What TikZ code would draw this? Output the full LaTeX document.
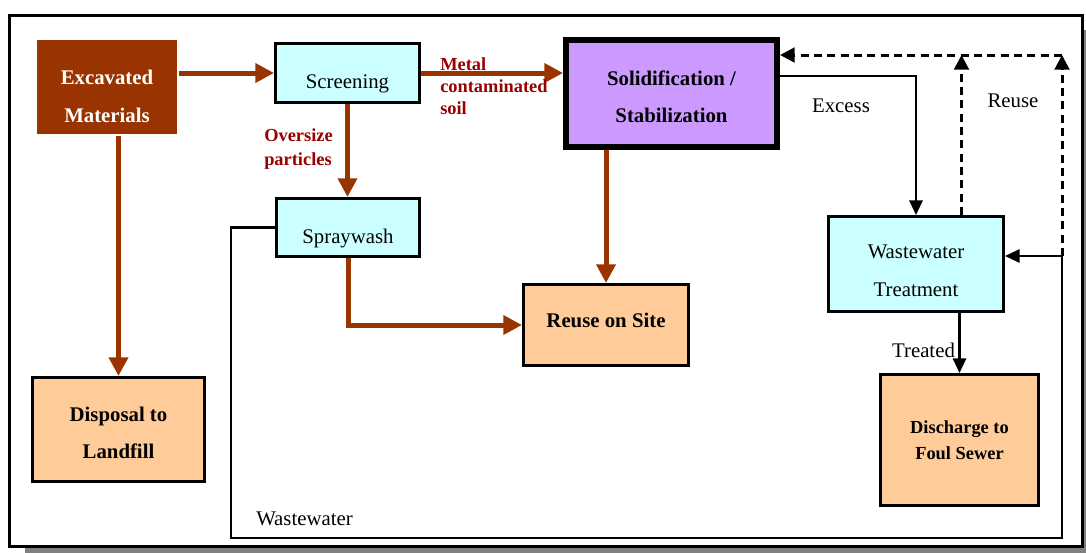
\documentclass[tikz,border=0pt]{standalone}
\usepackage{fontspec}
\setmainfont{Liberation Serif}
\usetikzlibrary{arrows.meta}
\definecolor{brn}{HTML}{993300}
\definecolor{cyn}{HTML}{CCFFFF}
\definecolor{prp}{HTML}{CC99FF}
\definecolor{org}{HTML}{FFCC99}
\definecolor{lbl}{HTML}{990000}
\definecolor{shd}{HTML}{808080}
\newcommand{\nfnt}{\fontsize{15.6}{28}\selectfont}
\newcommand{\smfnt}{\fontsize{13.8}{16}\selectfont\bfseries}
\newcommand{\mvtext}[2]{\raisebox{#1}[\height][\depth]{\begin{tabular}{@{}c@{}}#2\end{tabular}}}
\tikzset{
  box/.style={draw=black, line width=2.25pt, inner sep=0pt, align=center, font=\nfnt},
  brarrow/.style={draw=brn, line width=3.75pt, -{Triangle[length=14pt,width=14pt]}},
  blkarrow/.style={draw=black, line width=1.6pt, -{Triangle[length=11pt,width=10pt]}},
  dasharrow/.style={draw=black, line width=2.25pt, dash pattern=on 6pt off 4pt, -{Triangle[length=11pt,width=11pt]}},
  plainlbl/.style={font=\nfnt, inner sep=0pt},
  redlbl/.style={font=\smfnt, text=lbl, inner sep=0pt, align=left}
}
\begin{document}
\begin{tikzpicture}[x=0.75pt,y=-0.75pt]
\useasboundingbox (0,0) rectangle (1086,553);
% frame with shadow
\fill[shd] (25,30) rectangle (1088,553);
\draw[line width=2.25pt, fill=white] (9,15) rectangle (1082,546);

% boxes
\node[box, draw=none, fill=brn, text=white, font=\nfnt\bfseries, minimum width=105pt, minimum height=70.5pt] (exc) at (107,87) {\mvtext{-6.75pt}{Excavated\\Materials}};
\node[box, fill=cyn, minimum width=108pt, minimum height=44.25pt] (scr) at (347.5,73) {\mvtext{-6pt}{Screening}};
\node[box, fill=prp, line width=4.5pt, font=\nfnt\bfseries, minimum width=158.25pt, minimum height=80.25pt] (sol) at (671.5,93.5) {\mvtext{-2.25pt}{Solidification /\\Stabilization}};
\node[box, fill=cyn, minimum width=107.25pt, minimum height=43.5pt] (spr) at (348,227.5) {\mvtext{-6.75pt}{Spraywash}};
\node[box, fill=org, font=\nfnt\bfseries, minimum width=123.75pt, minimum height=60.75pt] (reuse) at (606,325) {\mvtext{3.5pt}{Reuse on Site}};
\node[box, fill=org, font=\nfnt\bfseries, minimum width=129pt, minimum height=78pt] (disp) at (118.5,429.5) {\mvtext{-2.25pt}{Disposal to\\Landfill}};
\node[box, fill=cyn, minimum width=131.25pt, minimum height=71.25pt] (wt) at (916,264) {\mvtext{-4.5pt}{Wastewater\\Treatment}};
\node[box, fill=org, font=\fontsize{13.8}{19.5}\selectfont\bfseries, minimum width=118.5pt, minimum height=98.25pt] (dis) at (959.5,440) {Discharge to\\Foul Sewer};

% coordinates for connectors
\coordinate (dtop1) at (961.5,55);
\coordinate (dtop2) at (1062,55);
\coordinate (jn) at (1062,256);
\coordinate (wl1) at (231,538);
\coordinate (wl2) at (1062,538);
\coordinate (ex) at (780,76);

% brown arrows
\draw[brarrow] (scr.west -| exc.east) -- (scr.west);
\draw[brarrow] (scr.east) -- (scr.east -| sol.west);
\draw[brarrow] (scr.south) -- (scr.south |- spr.north);
\draw[brarrow] (spr.south) |- (reuse.west);
\draw[brarrow] (sol.south -| reuse.north) -- (reuse.north);
\draw[brarrow] (exc.south -| disp.north) -- (disp.north);

% black arrows
\draw[blkarrow] (ex -| sol.east) -| (wt.north);
\draw[blkarrow] (wt.south -| dis.north) -- (dis.north);
\draw[blkarrow] (spr.west) -| (wl1) -- (wl2) -- (jn) -- (jn -| wt.east);

% dashed reuse
\draw[dasharrow] (wt.north -| dtop1) -- (dtop1);
\draw[dasharrow] (jn) -- (dtop2);
\draw[dasharrow] (dtop2) -- (dtop2 -| sol.east);

% labels
\node[redlbl, anchor=north west] (lmetal) at (440,57) {Metal\\[0.5pt]contaminated\\[0.5pt]soil};
\node[redlbl, anchor=north west] (lover) at (264,128) {Oversize\\[2pt]particles};
\node[plainlbl] (lexc) at (841,106) {Excess};
\node[plainlbl] (lreuse) at (1013,101) {Reuse};
\node[plainlbl] (ltreat) at (923.5,350) {Treated};
\node[plainlbl, anchor=west] (lww) at (256,519) {Wastewater};
\end{tikzpicture}
\end{document}
